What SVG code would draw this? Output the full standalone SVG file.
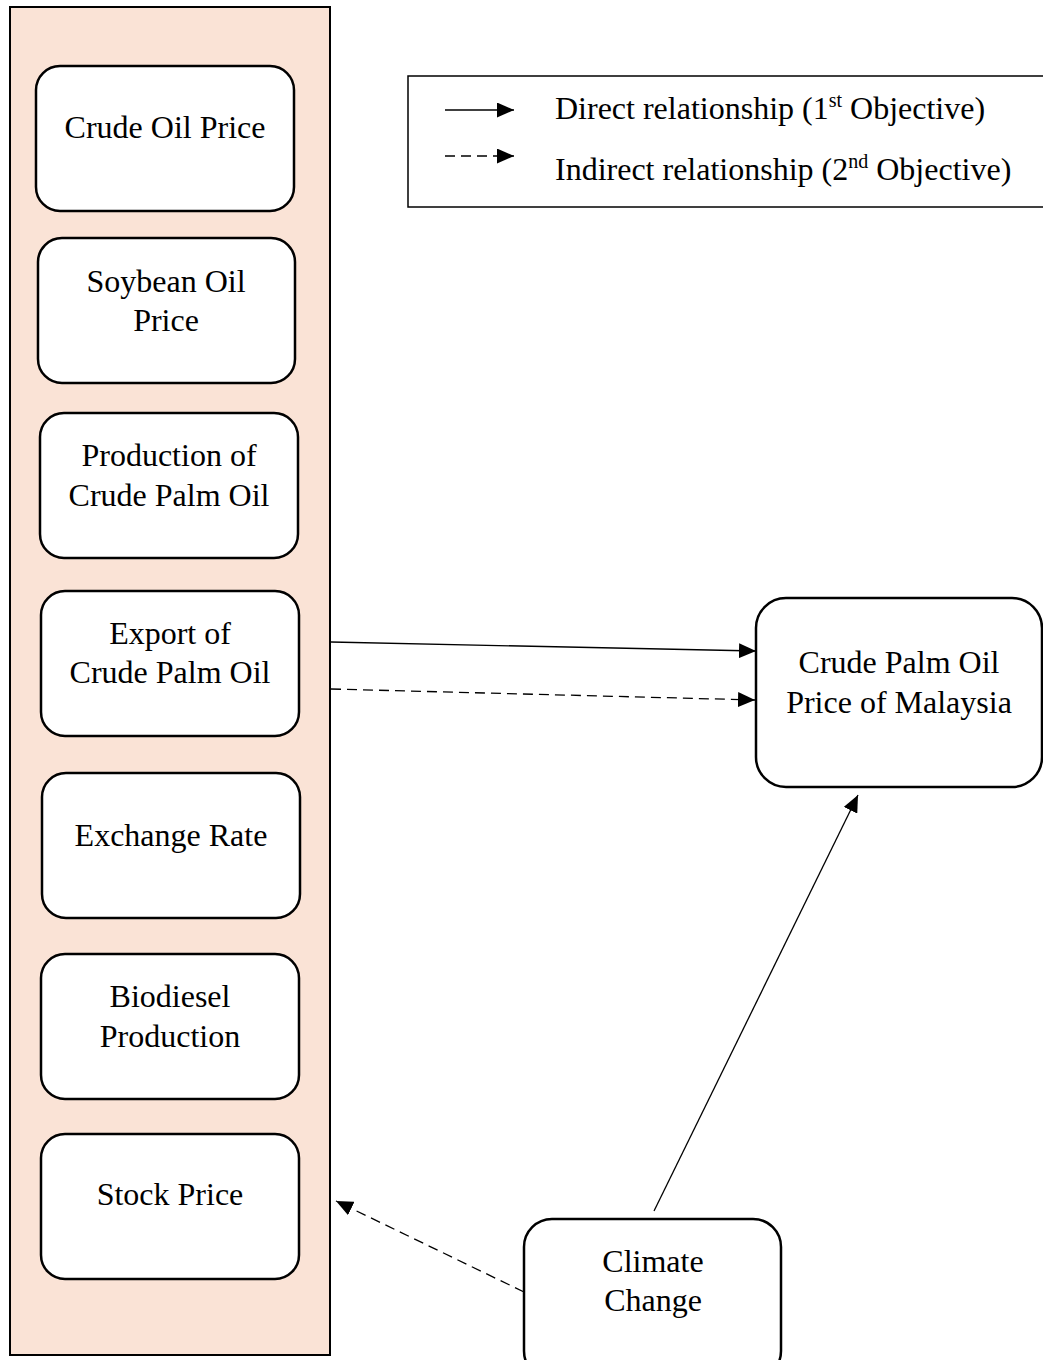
<svg xmlns="http://www.w3.org/2000/svg" width="1043" height="1360" viewBox="0 0 1043 1360">
<defs>
<style>
.t{font-family:"Liberation Serif","Times New Roman",serif;font-size:32px;fill:#000;text-anchor:middle}
.lt{font-family:"Liberation Serif","Times New Roman",serif;font-size:32px;fill:#000}
.sup{font-size:20px}
.box{fill:#fff;stroke:#000;stroke-width:2.5}
.c{stroke:#000;stroke-width:1.3;fill:none}
.d{stroke:#000;stroke-width:1.3;fill:none;stroke-dasharray:10 6}
</style>
<marker id="ah" viewBox="0 0 17 15" refX="17" refY="7.5" markerWidth="17" markerHeight="15" markerUnits="userSpaceOnUse" orient="auto"><path d="M0,0 L17,7.5 L0,15 Z" fill="#000"/></marker>
</defs>
<rect width="1043" height="1360" fill="#fff"/>
<g id="panel"><rect x="10" y="7" width="320" height="1348" fill="#FAE3D6" stroke="#000" stroke-width="2"/></g>
<g id="legend">
<rect x="408" y="76" width="640" height="131" fill="#fff" stroke="#000" stroke-width="1.5"/>
<line x1="445" y1="110" x2="514" y2="110" class="c" marker-end="url(#ah)"/>
<line x1="445" y1="156" x2="514" y2="156" class="d" marker-end="url(#ah)"/>
<text class="lt" x="555" y="119">Direct relationship (1<tspan class="sup" dy="-12">st</tspan><tspan dy="12"> Objective)</tspan></text>
<text class="lt" x="555" y="180">Indirect relationship (2<tspan class="sup" dy="-12">nd</tspan><tspan dy="12"> Objective)</tspan></text>
</g>
<g id="n1"><rect class="box" x="36" y="66" width="258" height="145" rx="24"/><text class="t" x="165" y="138">Crude Oil Price</text></g>
<g id="n2"><rect class="box" x="38" y="238" width="257" height="145" rx="24"/><text class="t" x="166" y="292">Soybean Oil</text><text class="t" x="166" y="331">Price</text></g>
<g id="n3"><rect class="box" x="40" y="413" width="258" height="145" rx="24"/><text class="t" x="169" y="466">Production of</text><text class="t" x="169" y="506">Crude Palm Oil</text></g>
<g id="n4"><rect class="box" x="41" y="591" width="258" height="145" rx="24"/><text class="t" x="170" y="644">Export of</text><text class="t" x="170" y="683">Crude Palm Oil</text></g>
<g id="n5"><rect class="box" x="42" y="773" width="258" height="145" rx="24"/><text class="t" x="171" y="846">Exchange Rate</text></g>
<g id="n6"><rect class="box" x="41" y="954" width="258" height="145" rx="24"/><text class="t" x="170" y="1007">Biodiesel</text><text class="t" x="170" y="1047">Production</text></g>
<g id="n7"><rect class="box" x="41" y="1134" width="258" height="145" rx="24"/><text class="t" x="170" y="1205">Stock Price</text></g>
<g id="target"><rect class="box" x="756" y="598" width="286" height="189" rx="30"/><text class="t" x="899" y="673">Crude Palm Oil</text><text class="t" x="899" y="713">Price of Malaysia</text></g>
<g id="climate"><rect class="box" x="524" y="1219" width="257" height="160" rx="28"/><text class="t" x="653" y="1272">Climate</text><text class="t" x="653" y="1311">Change</text></g>
<g id="connectors">
<line x1="331" y1="642" x2="756" y2="651" class="c" marker-end="url(#ah)"/>
<line x1="331" y1="689" x2="755" y2="700" class="d" marker-end="url(#ah)"/>
<line x1="654" y1="1211" x2="858" y2="795" class="c" marker-end="url(#ah)"/>
<line x1="524" y1="1292" x2="336" y2="1201" class="d" marker-end="url(#ah)"/>
</g>
</svg>
